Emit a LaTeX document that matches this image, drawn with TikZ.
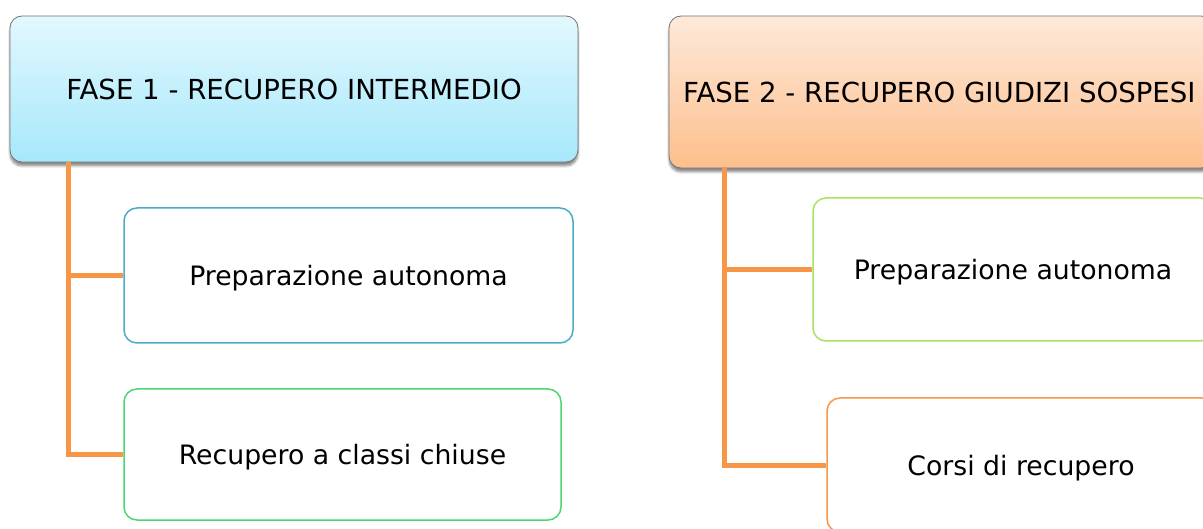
\documentclass[tikz,border=0pt]{standalone}
\usepackage{fontspec}
\setmainfont{DejaVu Sans}
\usetikzlibrary{shadows,shadows.blur}
\definecolor{conn}{HTML}{F79646}
\definecolor{hdrone}{HTML}{A6E8FB}
\definecolor{hdronetop}{HTML}{E2F8FE}
\definecolor{hdrtwo}{HTML}{FDBF8C}
\definecolor{hdrtwotop}{HTML}{FEE9DA}
\definecolor{bblue}{HTML}{4BACC6}
\definecolor{bgreen}{HTML}{4CD670}
\definecolor{blime}{HTML}{A9E25C}
\definecolor{borange}{HTML}{F79646}
\tikzset{
  hfont/.style={font=\fontsize{27.6}{32}\selectfont},
  lfont/.style={font=\fontsize{26.7}{31}\selectfont, text depth=0pt},
  hdr/.style={draw=black!55, line width=0.8pt, rounded corners=12pt, inner sep=0pt,
    blur shadow={shadow xshift=0pt, shadow yshift=-4pt, shadow blur steps=6, shadow opacity=45},
    hfont},
  leaf/.style={draw, line width=1.5pt, rounded corners=13pt, fill=white, inner sep=0pt, lfont},
  link/.style={conn, line width=5pt}
}
\begin{document}
\begin{tikzpicture}[x=1pt,y=-1pt]
\useasboundingbox (0,0) rectangle (1203,529);
\clip (0,0) rectangle (1203,529);
% headers
\node[hdr, top color=hdronetop, bottom color=hdrone, minimum width=568pt, minimum height=146pt] (h1) at (294,89) {FASE 1 - RECUPERO INTERMEDIO};
\node[hdr, top color=hdrtwotop, bottom color=hdrtwo, minimum width=544pt, minimum height=152pt] (h2) at (941,92) {};
\node[hfont, anchor=west, inner sep=0pt] (t2) at (683,92) {FASE 2 - RECUPERO GIUDIZI SOSPESI};
% leaves
\node[leaf, draw=bblue, minimum width=449pt, minimum height=135pt] (l1) at (348.5,275.5) {Preparazione autonoma};
\node[leaf, draw=bgreen, minimum width=437pt, minimum height=131pt] (l2) at (342.5,454.5) {Recupero a classi chiuse};
\node[leaf, draw=blime, minimum width=400pt, minimum height=143pt] (r1) at (1013,269.5) {Preparazione autonoma};
\node[leaf, draw=borange, minimum width=388pt, minimum height=134pt] (r2) at (1021,465) {};
\node[lfont] (t4) at (1021,465) {Corsi di recupero};
% connectors
\coordinate (c1) at (68,162);
\coordinate (c1a) at (68,275.5);
\coordinate (c1b) at (68,454.5);
\draw[link] (c1) -- (c1b) -- (l2.west);
\draw[link] (c1a) -- (l1.west);
\coordinate (c2) at (724,168);
\coordinate (c2a) at (724,269.5);
\coordinate (c2b) at (724,465);
\draw[link] (c2) -- (c2b) -- (r2.west);
\draw[link] (c2a) -- (r1.west);
\end{tikzpicture}
\end{document}
